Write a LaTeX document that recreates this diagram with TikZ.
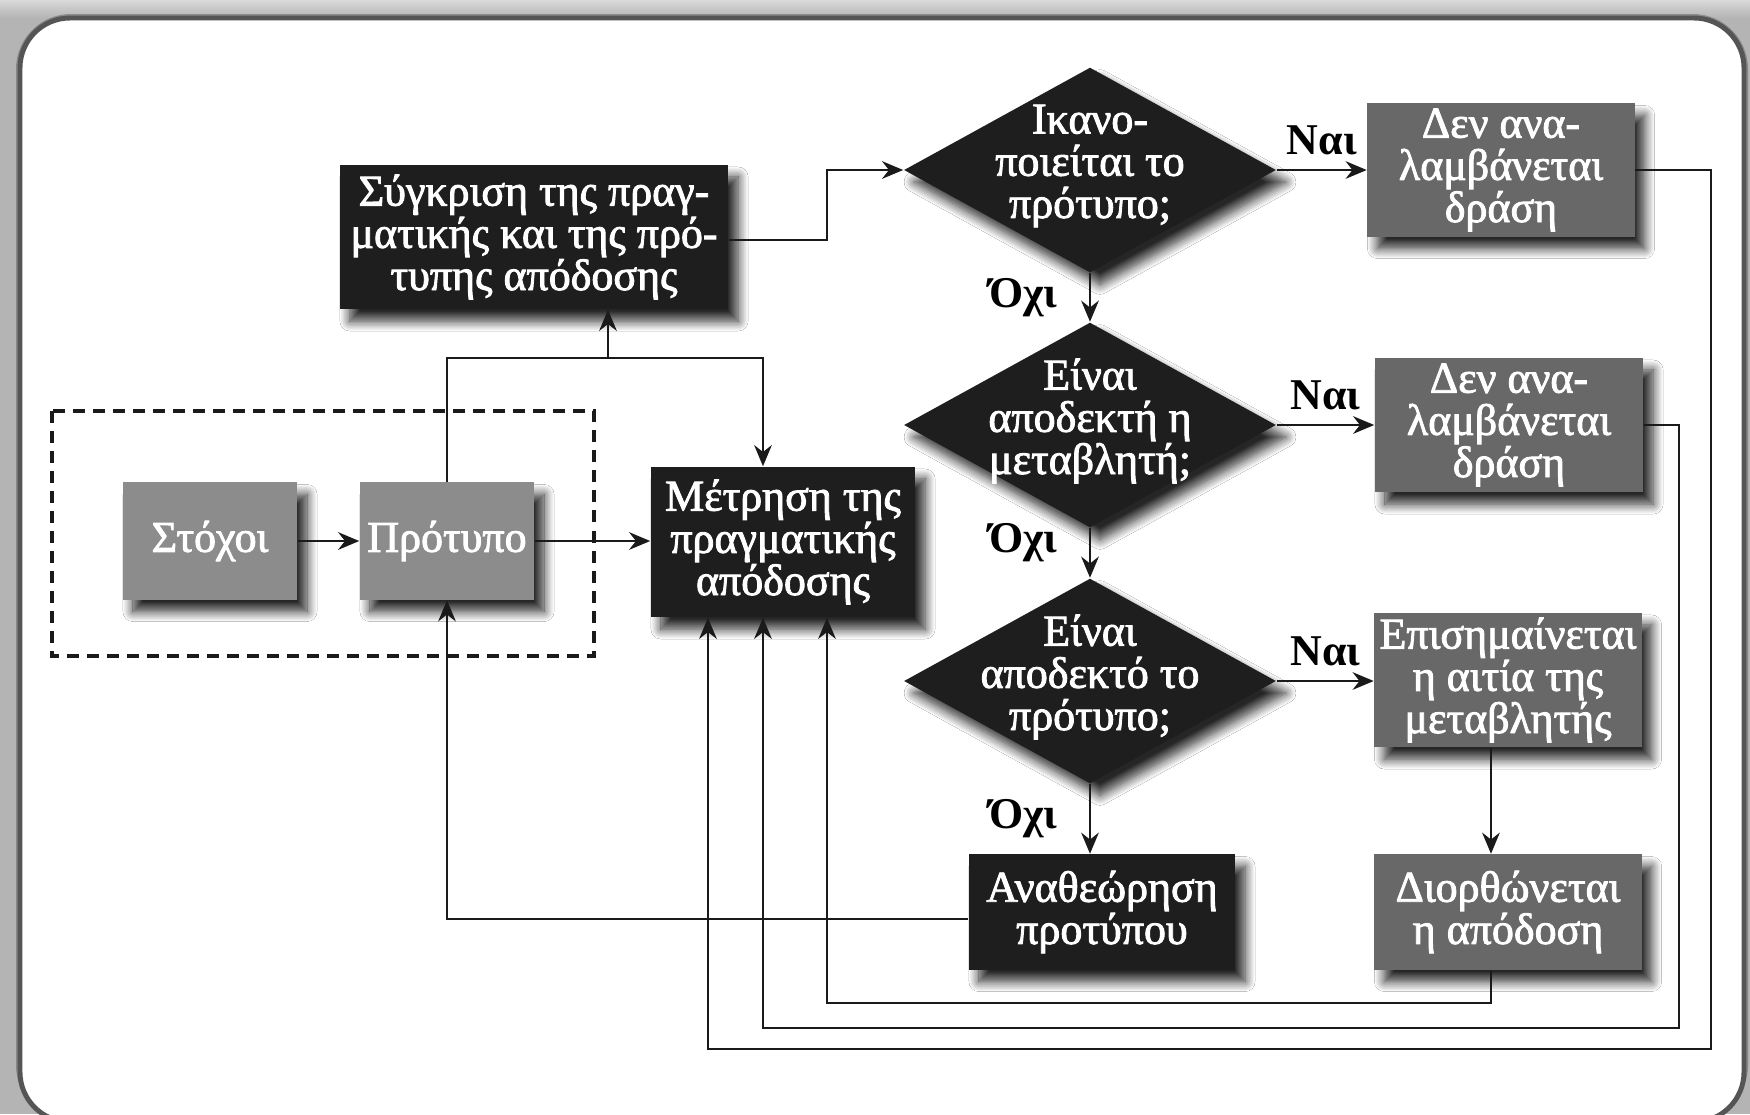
\documentclass[tikz,border=0pt]{standalone}
\usepackage{fontspec}
\setmainfont{Liberation Serif}
\newfontfamily\boxfont[FakeBold=2]{Liberation Serif}
\usetikzlibrary{shapes.geometric,arrows.meta,shadows.blur,calc}

\definecolor{boxblack}{HTML}{1E1E1E}
\definecolor{boxlight}{HTML}{8C8C8C}
\definecolor{boxmid}{HTML}{686868}
\definecolor{wire}{HTML}{1A1A1A}
\definecolor{frameedge}{HTML}{555555}
\definecolor{outside}{HTML}{B4B4B4}

\begin{document}
\begin{tikzpicture}[x=0.01cm,y=-0.01cm,
  softshadow/.style={blur shadow={shadow xshift=0.1cm, shadow yshift=-0.12cm,
      shadow blur radius=0.1cm, shadow blur steps=12, shadow opacity=85}},
  box/.style={rectangle, inner sep=0pt, align=center, text=white,
      font=\boxfont\fontsize{12.5}{12}\selectfont, softshadow},
  darkbox/.style={box, fill=boxblack},
  lightbox/.style={box, fill=boxlight},
  midbox/.style={box, fill=boxmid},
  decision/.style={diamond, fill=boxblack, inner sep=0pt, aspect=1,
      minimum width=3.72cm, minimum height=2.05cm, softshadow},
  dtext/.style={inner sep=0pt, align=center, text=white,
      font=\boxfont\fontsize{12.5}{12}\selectfont},
  answer/.style={font=\fontsize{12.5}{14}\selectfont\bfseries, text=black, inner sep=1pt},
  line/.style={draw=wire, line width=0.75pt},
  flow/.style={line, -{Stealth[length=6pt,width=5pt]}}
]
\useasboundingbox (0,0) rectangle (1750,1114);

% panel
\fill[outside] (0,0) rectangle (1750,1114);
\shade[top color=white!85!black, bottom color=outside] (0,0) rectangle (1750,18);
\fill[black, opacity=0.25] (16,14) [rounded corners=0.55cm] rectangle (1748,1120);
\filldraw[fill=white, draw=frameedge, line width=1.4pt, rounded corners=0.5cm]
  (20,18) rectangle (1744,1122);

% dashed group around goals and standard
\draw[wire, line width=1.1pt, dash pattern=on 0.12cm off 0.08cm] (52,411) rectangle (594,656);

% boxes
\node[darkbox, minimum width=3.88cm, minimum height=1.44cm] (sygkrisi) at (534,237)
  {Σύγκριση της πραγ-\\ματικής και της πρό-\\τυπης απόδοσης};
\node[darkbox, minimum width=2.64cm, minimum height=1.50cm] (metrisi) at (783,542)
  {Μέτρηση της\\πραγματικής\\απόδοσης};
\node[lightbox, minimum width=1.74cm, minimum height=1.17cm] (stoxoi) at (210,541) {Στόχοι};
\node[lightbox, minimum width=1.74cm, minimum height=1.17cm] (protypo) at (447,541) {Πρότυπο};

\node[decision] (d1) at (1090,170) {};
\node[dtext] (d1t) at (1090,166) {Ικανο-\\ποιείται το\\πρότυπο;};
\node[decision] (d2) at (1090,425) {};
\node[dtext] (d2t) at (1090,421) {Είναι\\αποδεκτή η\\μεταβλητή;};
\node[decision] (d3) at (1090,681) {};
\node[dtext] (d3t) at (1090,677) {Είναι\\αποδεκτό το\\πρότυπο;};

\node[midbox, minimum width=2.67cm, minimum height=1.33cm] (dan1) at (1501,170)
  {Δεν ανα-\\λαμβάνεται\\δράση};
\node[midbox, minimum width=2.68cm, minimum height=1.34cm] (dan2) at (1509,425)
  {Δεν ανα-\\λαμβάνεται\\δράση};
\node[midbox, minimum width=2.67cm, minimum height=1.34cm] (epis) at (1508,680)
  {Επισημαίνεται\\η αιτία της\\μεταβλητής};
\node[midbox, minimum width=2.67cm, minimum height=1.15cm] (dior) at (1508,912)
  {Διορθώνεται\\η απόδοση};
\node[darkbox, minimum width=2.66cm, minimum height=1.15cm] (anath) at (1102,912)
  {Αναθεώρηση\\προτύπου};

% junction points of the wiring
\coordinate (bus) at (608,358);
\coordinate (k1) at (827,0);
\coordinate (r1) at (827,1003);
\coordinate (r2) at (1679,1028);
\coordinate (r3) at (1711,1049);

% connectors
\draw[flow] (stoxoi) -- (protypo);
\draw[flow] (protypo.east) -- (protypo.east -| metrisi.west);
\draw[flow] (protypo.north) |- (bus) -| ([xshift=-0.2cm]metrisi.north);
\draw[flow] (bus) -- (bus |- sygkrisi.south);
\draw[flow] ([yshift=-0.03cm]sygkrisi.east) -| (k1 |- d1.west) -- (d1.west);

\draw[flow] (d1.east) -- node[answer, midway, above=0.1cm] (yes1) {Ναι} (dan1.west);
\draw[flow] (d2.east) -- node[answer, midway, above=0.1cm] (yes2) {Ναι} (d2.east -| dan2.west);
\draw[flow] (d3.east) -- node[answer, midway, above=0.1cm] (yes3) {Ναι} (d3.east -| epis.west);

\draw[flow] (d1.south) -- node[answer, midway, left=0.28cm] (no1) {Όχι} (d2.north);
\draw[flow] (d2.south) -- node[answer, midway, left=0.28cm, yshift=0.1cm] (no2) {Όχι} (d3.north);
\draw[flow] (d3.south) -- node[answer, midway, left=0.28cm] (no3) {Όχι} (d3.south |- anath.north);

\draw[flow] ([xshift=-0.17cm]epis.south) -- ([xshift=-0.17cm]dior.north);
\draw[flow] ([yshift=-0.07cm]anath.west) -| (protypo.south);

\draw[flow] ([xshift=-0.17cm]dior.south) |- (r1) -- (r1 |- metrisi.south);
\draw[flow] (dan2.east) -| (r2) -| ([xshift=-0.2cm]metrisi.south);
\draw[flow] (dan1.east) -| (r3) -| ([xshift=-0.75cm]metrisi.south);
\end{tikzpicture}
\end{document}
